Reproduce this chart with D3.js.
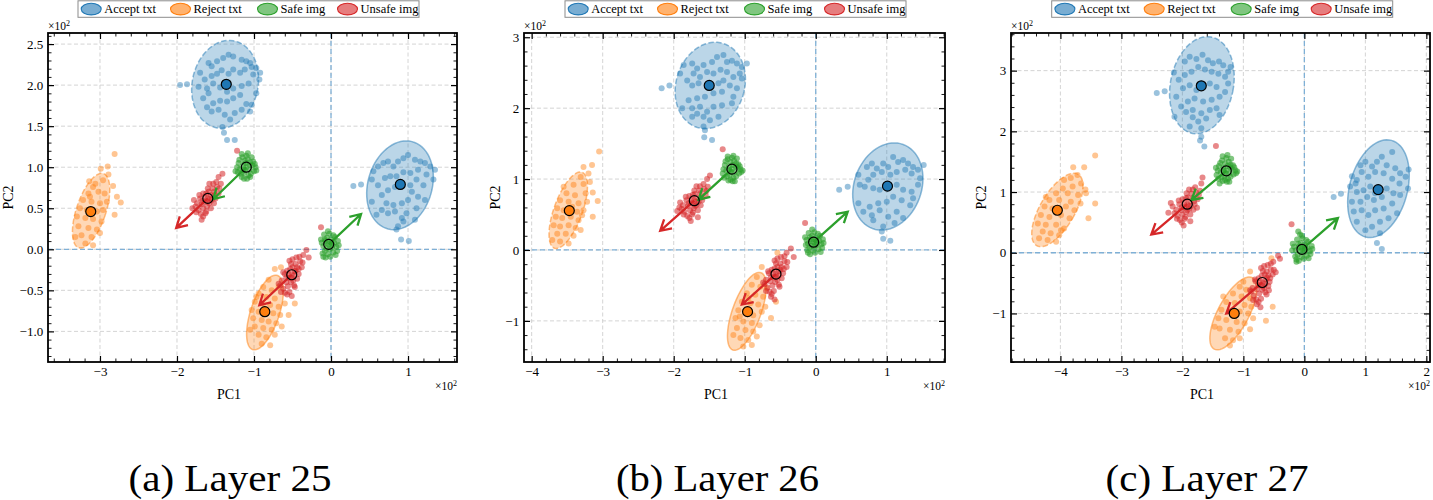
<!DOCTYPE html>
<html>
<head>
<meta charset="utf-8">
<script src="https://cdn.jsdelivr.net/npm/d3@7"></script>
<style>
  body { margin: 0; background: #fff; }
  text { font-family: "Liberation Serif", "DejaVu Serif", serif; }
</style>
</head>
<body>
<svg id="chart" width="1433" height="500"></svg>
<script>
// Legend / captions
const legendLabels = ["Accept txt", "Reject txt", "Safe img", "Unsafe img"];
const legendKeys = ["accept", "reject", "safe", "unsafe"];
const captions = ["(a) Layer 25", "(b) Layer 26", "(c) Layer 27"];

// ---------- Layer 25 (values in units of 10^2) ----------
const L25_acceptA = [[-1.96,2.00],[-1.87,2.01],[-1.59,2.27],[-1.55,2.23],[-1.48,2.29],[-1.40,2.33],[-1.33,2.37],[-1.27,2.35],[-1.16,2.31],[-1.10,2.29],[-1.05,2.27],[-1.03,2.22],[-0.97,2.21],[-0.92,2.15],[-0.93,2.07],[-1.01,2.13],[-1.12,2.19],[-1.18,2.15],[-1.27,2.19],[-1.33,2.14],[-1.42,2.18],[-1.48,2.14],[-1.55,2.11],[-1.64,2.07],[-1.70,2.15],[-1.72,1.98],[-1.61,1.96],[-1.53,2.02],[-1.44,1.97],[-1.35,1.92],[-1.27,1.96],[-1.16,1.99],[-1.07,2.02],[-1.18,1.88],[-1.27,1.84],[-1.35,1.80],[-1.44,1.81],[-1.53,1.78],[-1.61,1.73],[-1.55,1.68],[-1.46,1.70],[-1.38,1.64],[-1.31,1.58],[-1.25,1.66],[-1.16,1.70],[-1.05,1.68],[-1.10,1.77],[-1.66,1.84],[-1.59,1.90],[-1.41,1.49],[-1.35,1.33],[-1.25,1.33],[-1.39,1.42],[-0.97,1.90],[-1.03,1.76]];
const L25_acceptB = [[0.29,0.77],[0.39,0.79],[0.55,0.95],[0.53,0.85],[0.61,1.01],[0.68,1.05],[0.74,1.07],[0.81,1.01],[0.87,1.07],[0.94,1.11],[1.00,1.15],[1.09,1.09],[1.16,1.07],[1.22,1.05],[1.29,1.01],[1.35,0.97],[1.33,0.85],[1.24,0.91],[1.13,0.97],[1.03,0.93],[0.94,0.94],[0.85,0.89],[0.77,0.89],[0.70,0.87],[0.61,0.78],[0.66,0.66],[0.74,0.72],[0.83,0.76],[1.03,0.78],[1.11,0.85],[1.20,0.78],[1.05,0.70],[1.13,0.64],[1.22,0.60],[1.00,0.60],[0.92,0.56],[0.81,0.54],[0.72,0.56],[0.53,0.58],[0.66,0.48],[0.74,0.44],[0.83,0.46],[0.92,0.38],[0.98,0.44],[1.11,0.50],[0.87,0.28],[0.85,0.24],[0.91,0.12],[1.01,0.10],[0.94,0.34],[1.09,0.36],[0.59,0.42]];
const L25_rejectA = [[-2.81,1.16],[-2.90,1.01],[-2.99,0.98],[-2.89,0.91],[-2.96,0.84],[-3.09,0.76],[-3.02,0.70],[-3.15,0.68],[-2.83,0.77],[-2.78,0.64],[-2.73,0.57],[-2.81,0.42],[-3.22,0.60],[-3.11,0.58],[-3.00,0.56],[-3.26,0.50],[-3.17,0.48],[-3.04,0.46],[-2.96,0.48],[-3.30,0.40],[-3.19,0.38],[-3.09,0.37],[-2.98,0.34],[-3.28,0.28],[-3.15,0.26],[-3.04,0.24],[-3.24,0.17],[-3.11,0.15],[-3.00,0.20],[-3.19,0.07],[-3.09,0.05],[-3.32,0.15],[-3.13,0.64],[-3.06,0.80],[-2.94,0.68],[-2.91,0.58],[-3.14,0.83]];
const L25_rejectB = [[-0.73,-0.24],[-0.65,-0.22],[-0.47,-0.66],[-0.55,-0.80],[-0.81,-0.37],[-0.88,-0.46],[-0.77,-0.50],[-0.68,-0.46],[-0.94,-0.54],[-0.84,-0.58],[-0.73,-0.60],[-0.99,-0.64],[-0.90,-0.66],[-0.79,-0.68],[-0.68,-0.70],[-1.03,-0.74],[-0.94,-0.76],[-0.75,-0.78],[-0.66,-0.80],[-1.01,-0.84],[-0.90,-0.86],[-0.81,-0.88],[-0.71,-0.90],[-0.99,-0.94],[-0.88,-0.96],[-0.77,-0.98],[-0.94,-1.04],[-0.84,-1.07],[-0.73,-1.04],[-0.90,-1.15],[-0.79,-1.17],[-1.05,-0.98],[-0.60,-0.66],[-0.64,-0.94],[-0.86,-0.72],[-0.97,-0.58]];
const L25_safeA = [[-1.10,1.00],[-1.14,1.03],[-1.06,0.97],[-1.18,0.98],[-1.02,1.02],[-1.12,1.08],[-1.08,1.10],[-1.15,1.12],[-1.05,1.06],[-1.20,1.05],[-1.00,0.95],[-0.98,1.00],[-1.13,0.93],[-1.07,0.90],[-1.17,0.92],[-1.22,1.00],[-1.10,1.14],[-1.03,1.12],[-1.16,0.88],[-1.09,0.86],[-1.04,0.92],[-0.97,0.96],[-1.19,1.09],[-1.24,0.95],[-1.12,0.96],[-1.06,1.03],[-1.01,1.07],[-1.14,0.97],[-1.11,1.05],[-0.99,1.04],[-1.21,0.94],[-1.13,0.86],[-1.05,0.88],[-1.08,1.17],[-1.16,1.16]];
const L25_unsafeA = [[-1.60,0.62],[-1.64,0.58],[-1.56,0.66],[-1.68,0.55],[-1.52,0.70],[-1.62,0.68],[-1.58,0.56],[-1.70,0.62],[-1.50,0.62],[-1.66,0.50],[-1.54,0.74],[-1.48,0.76],[-1.72,0.48],[-1.60,0.74],[-1.56,0.50],[-1.66,0.68],[-1.74,0.56],[-1.46,0.68],[-1.63,0.44],[-1.69,0.43],[-1.58,0.80],[-1.52,0.56],[-1.76,0.52],[-1.64,0.64],[-1.57,0.62],[-1.61,0.52],[-1.55,0.60],[-1.67,0.59],[-1.51,0.66],[-1.59,0.70],[-1.71,0.66],[-1.45,0.74],[-1.53,0.80],[-1.62,0.46],[-1.75,0.45],[-1.66,0.40],[-1.49,0.82],[-1.43,0.80],[-1.78,0.60],[-1.60,0.58],[-1.41,0.92],[-1.46,0.88],[-1.22,1.20],[-1.80,0.50],[-1.68,0.36]];
const L25_safeB = [[-0.03,0.06],[-0.07,0.10],[0.01,0.02],[-0.10,0.04],[0.04,0.08],[-0.05,0.14],[0.00,0.12],[-0.08,-0.02],[0.03,-0.04],[-0.12,0.08],[0.07,0.03],[-0.04,-0.06],[-0.09,0.18],[-0.02,0.19],[0.05,0.15],[-0.11,-0.05],[0.08,-0.02],[-0.06,0.01],[0.02,0.05],[-0.01,-0.09],[-0.13,0.12],[0.09,0.10],[-0.05,0.07],[-0.02,0.00],[0.06,-0.07],[-0.08,0.12],[0.03,0.17],[-0.10,-0.09],[0.10,0.05],[-0.04,0.22],[-0.07,-0.10],[0.01,0.09]];
const L25_unsafeB = [[-0.51,-0.31],[-0.55,-0.35],[-0.47,-0.27],[-0.58,-0.40],[-0.44,-0.22],[-0.53,-0.24],[-0.49,-0.38],[-0.60,-0.30],[-0.42,-0.30],[-0.56,-0.45],[-0.46,-0.18],[-0.40,-0.15],[-0.62,-0.48],[-0.52,-0.18],[-0.48,-0.44],[-0.57,-0.26],[-0.64,-0.38],[-0.38,-0.22],[-0.54,-0.52],[-0.60,-0.53],[-0.50,-0.12],[-0.44,-0.36],[-0.66,-0.44],[-0.55,-0.30],[-0.48,-0.32],[-0.52,-0.40],[-0.46,-0.26],[-0.58,-0.34],[-0.42,-0.24],[-0.50,-0.22],[-0.62,-0.28],[-0.37,-0.16],[-0.45,-0.10],[-0.54,-0.14],[-0.57,-0.55],[-0.65,-0.52],[-0.47,-0.46],[-0.41,-0.09],[-0.68,-0.42],[-0.51,-0.35],[-0.32,-0.01],[-0.29,-0.10],[-0.36,-0.07],[-0.51,-0.57],[-0.13,0.27]];
// means: acceptA, acceptB, rejectA, rejectB, safeA, safeB, unsafeA, unsafeB
const L25_means = [[-1.36,2.01],[0.90,0.79],[-3.12,0.46],[-0.86,-0.76],[-1.10,1.00],[-0.03,0.06],[-1.60,0.62],[-0.51,-0.31]];
// ellipses: cx, cy, semi-x, semi-y, angle (deg)
const L25_ellipses = [[-1.375,2.01,0.426,0.542,-15],[0.896,0.78,0.414,0.555,-20],[-3.115,0.47,0.19,0.48,-20],[-0.857,-0.77,0.185,0.48,-20]];
// arrows: x0, y0, x1, y1
const L25_arrows = [[-1.10,1.00,-1.53,0.61],[-1.60,0.62,-2.01,0.26],[-0.03,0.06,0.39,0.43],[-0.51,-0.31,-0.93,-0.68]];

// ---------- Layer 26 ----------
const L26_acceptA = [[-2.17,2.28],[-2.06,2.32],[-1.91,2.49],[-1.86,2.61],[-1.74,2.63],[-1.67,2.56],[-1.58,2.61],[-1.46,2.65],[-1.39,2.72],[-1.30,2.75],[-1.25,2.65],[-1.18,2.67],[-1.11,2.63],[-1.04,2.58],[-0.97,2.63],[-1.07,2.49],[-1.16,2.44],[-1.25,2.51],[-1.34,2.54],[-1.44,2.49],[-1.53,2.51],[-1.63,2.44],[-1.72,2.49],[-1.81,2.39],[-1.74,2.32],[-1.65,2.35],[-1.37,2.35],[-1.30,2.39],[-1.21,2.32],[-1.11,2.28],[-1.32,2.23],[-1.44,2.21],[-1.56,2.16],[-1.67,2.14],[-1.79,2.11],[-1.88,2.00],[-1.74,2.00],[-1.63,2.02],[-1.53,1.95],[-1.44,2.02],[-1.32,2.04],[-1.18,2.07],[-1.16,2.16],[-1.67,1.92],[-1.58,1.88],[-1.49,1.83],[-1.37,1.88],[-1.58,1.74],[-1.56,1.69],[-1.57,1.59],[-1.46,1.55],[-1.74,1.88],[-1.04,2.42]];
const L26_acceptB = [[0.33,0.85],[0.45,0.89],[0.60,1.06],[0.62,0.92],[0.72,1.17],[0.79,1.22],[0.86,1.15],[0.95,1.22],[1.02,1.17],[1.09,1.31],[1.16,1.24],[1.23,1.27],[1.30,1.22],[1.37,1.17],[1.44,1.13],[1.52,1.20],[1.47,1.01],[1.35,1.08],[1.26,1.13],[1.14,1.10],[1.05,1.06],[0.93,1.10],[0.81,1.06],[0.74,0.99],[0.69,0.89],[0.81,0.87],[0.90,0.85],[1.14,0.92],[1.23,0.85],[1.35,0.82],[1.44,0.92],[1.09,0.75],[1.21,0.70],[1.33,0.63],[1.00,0.68],[0.88,0.66],[0.76,0.61],[0.60,0.66],[0.67,0.54],[0.79,0.49],[0.90,0.56],[1.02,0.47],[1.14,0.54],[1.23,0.45],[0.95,0.33],[0.93,0.26],[0.95,0.16],[1.05,0.13],[1.11,0.38],[0.81,0.42],[1.37,0.73]];
const L26_rejectA = [[-3.05,1.39],[-3.15,1.20],[-3.27,1.17],[-3.14,0.81],[-3.07,0.69],[-3.14,0.47],[-3.20,1.08],[-3.31,1.03],[-3.41,0.92],[-3.27,0.93],[-3.51,0.80],[-3.39,0.77],[-3.24,0.80],[-3.60,0.70],[-3.48,0.68],[-3.34,0.66],[-3.64,0.59],[-3.55,0.56],[-3.36,0.54],[-3.27,0.56],[-3.66,0.47],[-3.57,0.45],[-3.45,0.47],[-3.34,0.42],[-3.69,0.35],[-3.60,0.33],[-3.48,0.35],[-3.38,0.31],[-3.64,0.23],[-3.52,0.23],[-3.41,0.20],[-3.60,0.12],[-3.48,0.09],[-3.71,0.14],[-3.31,0.28],[-3.43,0.61],[-3.22,0.68],[-3.55,0.89],[-3.18,0.96],[-3.29,0.49]];
const L26_rejectB = [[-0.76,-0.24],[-0.54,-0.04],[-0.63,-0.96],[-0.56,-0.73],[-0.83,-0.38],[-0.90,-0.49],[-0.78,-0.52],[-0.97,-0.61],[-0.85,-0.63],[-0.74,-0.66],[-1.04,-0.73],[-0.92,-0.75],[-0.81,-0.77],[-1.09,-0.85],[-0.99,-0.89],[-0.88,-0.92],[-0.76,-0.87],[-1.13,-0.96],[-1.02,-1.01],[-0.90,-1.03],[-0.79,-1.06],[-1.11,-1.10],[-0.99,-1.13],[-0.88,-1.15],[-1.06,-1.24],[-0.95,-1.27],[-0.83,-1.22],[-1.02,-1.36],[-0.90,-1.34],[-1.16,-1.20],[-0.71,-0.80],[-0.95,-0.68],[-1.07,-0.94],[-0.69,-0.54]];
const L26_safeA = [[-1.18,1.14],[-1.22,1.18],[-1.14,1.10],[-1.26,1.12],[-1.10,1.16],[-1.20,1.24],[-1.15,1.26],[-1.24,1.28],[-1.12,1.22],[-1.28,1.20],[-1.08,1.08],[-1.06,1.14],[-1.21,1.06],[-1.16,1.02],[-1.25,1.04],[-1.30,1.14],[-1.18,1.30],[-1.11,1.29],[-1.23,0.98],[-1.17,0.97],[-1.12,1.04],[-1.05,1.10],[-1.27,1.25],[-1.31,1.08],[-1.19,1.10],[-1.13,1.18],[-1.09,1.21],[-1.22,1.13],[-1.17,1.20],[-1.07,1.18],[-1.29,1.02],[-1.20,0.99],[-1.14,0.97],[-1.16,1.33],[-1.24,1.32],[-1.03,1.12]];
const L26_unsafeA = [[-1.71,0.70],[-1.75,0.66],[-1.67,0.74],[-1.80,0.62],[-1.62,0.80],[-1.73,0.78],[-1.68,0.63],[-1.82,0.70],[-1.60,0.70],[-1.77,0.56],[-1.64,0.84],[-1.57,0.86],[-1.85,0.54],[-1.71,0.84],[-1.66,0.56],[-1.78,0.76],[-1.87,0.63],[-1.55,0.77],[-1.74,0.50],[-1.81,0.48],[-1.68,0.90],[-1.62,0.63],[-1.89,0.58],[-1.75,0.72],[-1.69,0.68],[-1.72,0.59],[-1.65,0.68],[-1.79,0.66],[-1.61,0.74],[-1.70,0.79],[-1.83,0.75],[-1.54,0.83],[-1.63,0.90],[-1.73,0.53],[-1.86,0.50],[-1.78,0.45],[-1.58,0.93],[-1.52,0.89],[-1.91,0.67],[-1.70,0.62],[-1.76,0.41],[-1.66,0.46],[-1.31,1.42],[-1.49,1.05],[-1.53,1.00],[-1.92,0.60],[-1.95,0.55]];
const L26_safeB = [[-0.03,0.11],[-0.07,0.15],[0.01,0.07],[-0.11,0.09],[0.05,0.13],[-0.05,0.20],[0.00,0.17],[-0.09,0.03],[0.04,0.01],[-0.13,0.14],[0.08,0.08],[-0.04,-0.01],[-0.10,0.24],[-0.02,0.25],[0.06,0.20],[-0.12,0.00],[0.09,0.03],[-0.06,0.06],[0.02,0.10],[-0.01,-0.04],[-0.15,0.18],[0.10,0.15],[-0.05,0.12],[-0.02,0.05],[0.07,-0.03],[-0.08,0.18],[0.03,0.23],[-0.11,-0.04],[0.11,0.10],[-0.05,0.29],[-0.08,-0.06],[0.01,0.14],[-0.14,0.07]];
const L26_unsafeB = [[-0.56,-0.34],[-0.60,-0.39],[-0.52,-0.30],[-0.64,-0.44],[-0.48,-0.24],[-0.58,-0.26],[-0.54,-0.42],[-0.66,-0.33],[-0.46,-0.33],[-0.61,-0.50],[-0.50,-0.19],[-0.44,-0.16],[-0.68,-0.53],[-0.56,-0.19],[-0.52,-0.49],[-0.62,-0.28],[-0.70,-0.42],[-0.41,-0.24],[-0.59,-0.58],[-0.65,-0.59],[-0.54,-0.12],[-0.48,-0.40],[-0.72,-0.48],[-0.60,-0.33],[-0.52,-0.36],[-0.57,-0.45],[-0.50,-0.28],[-0.63,-0.38],[-0.45,-0.27],[-0.54,-0.24],[-0.67,-0.30],[-0.40,-0.17],[-0.49,-0.10],[-0.58,-0.15],[-0.62,-0.62],[-0.70,-0.58],[-0.51,-0.52],[-0.44,-0.09],[-0.74,-0.46],[-0.56,-0.38],[-0.63,-0.66],[-0.35,0.02],[-0.31,-0.10],[-0.41,-0.04],[-0.15,0.38],[-0.58,-0.70]];
const L26_means = [[-1.50,2.32],[1.01,0.90],[-3.47,0.555],[-0.96,-0.87],[-1.18,1.14],[-0.03,0.11],[-1.71,0.695],[-0.56,-0.34]];
const L26_ellipses = [[-1.485,2.32,0.482,0.62,-17],[1.015,0.895,0.474,0.631,-20],[-3.485,0.56,0.2,0.57,-20],[-0.97,-0.865,0.2,0.58,-20]];
const L26_arrows = [[-1.18,1.14,-1.65,0.71],[-1.71,0.695,-2.19,0.27],[-0.03,0.11,0.45,0.54],[-0.56,-0.34,-1.04,-0.77]];

// ---------- Layer 27 ----------
const L27_acceptA = [[-2.42,2.63],[-2.29,2.66],[-2.14,2.97],[-1.96,3.15],[-1.88,3.23],[-1.77,3.19],[-1.67,3.26],[-1.58,3.17],[-1.50,3.12],[-1.40,3.15],[-1.33,3.09],[-1.25,2.98],[-1.21,3.06],[-1.30,2.90],[-1.41,2.95],[-1.52,2.98],[-1.63,3.02],[-1.74,3.06],[-1.85,2.98],[-1.96,2.93],[-2.06,2.85],[-1.99,2.71],[-1.88,2.76],[-1.77,2.68],[-1.55,2.79],[-1.44,2.73],[-1.30,2.65],[-1.39,2.57],[-1.52,2.52],[-1.66,2.49],[-1.80,2.54],[-1.91,2.49],[-2.02,2.41],[-1.94,2.32],[-1.83,2.35],[-1.69,2.30],[-1.55,2.35],[-1.44,2.38],[-1.61,2.21],[-1.74,2.16],[-1.88,2.08],[-1.69,2.05],[-1.83,2.23],[-2.10,2.57],[-1.39,2.27],[-1.69,1.91],[-1.71,1.85],[-1.64,1.75],[-2.13,2.24],[-1.25,2.79]];
const L27_acceptB = [[0.48,0.92],[0.60,0.97],[0.78,1.26],[0.84,1.14],[0.92,1.44],[1.00,1.50],[1.11,1.42],[1.19,1.50],[1.27,1.58],[1.35,1.44],[1.44,1.66],[1.49,1.39],[1.57,1.31],[1.66,1.25],[1.71,1.37],[1.70,1.06],[1.56,1.14],[1.44,1.22],[1.30,1.31],[1.16,1.33],[1.05,1.25],[0.94,1.33],[0.86,1.20],[0.75,1.09],[0.86,1.00],[0.97,1.03],[1.08,1.09],[1.35,1.06],[1.46,0.98],[1.57,0.95],[1.27,0.92],[1.14,0.87],[1.03,0.92],[0.92,0.84],[0.81,0.68],[0.94,0.70],[1.05,0.62],[1.16,0.70],[1.30,0.73],[1.44,0.81],[1.38,0.57],[1.24,0.51],[1.11,0.43],[1.00,0.37],[1.24,0.32],[1.19,0.16],[1.27,0.06],[0.86,0.51],[1.52,0.65],[0.78,0.84],[1.16,0.98]];
const L27_rejectA = [[-3.43,1.60],[-3.61,1.41],[-3.79,1.41],[-3.59,1.04],[-3.43,0.81],[-3.54,0.57],[-3.72,1.28],[-3.83,1.23],[-3.94,1.20],[-3.66,1.14],[-3.80,1.09],[-3.96,1.06],[-4.07,0.98],[-3.88,0.98],[-3.71,0.95],[-4.18,0.87],[-4.02,0.87],[-3.83,0.84],[-4.26,0.76],[-4.13,0.73],[-3.91,0.76],[-3.77,0.70],[-4.32,0.62],[-4.18,0.59],[-3.99,0.62],[-3.85,0.57],[-4.37,0.48],[-4.24,0.46],[-4.07,0.46],[-3.94,0.40],[-4.29,0.35],[-4.16,0.32],[-4.02,0.29],[-4.35,0.24],[-4.21,0.21],[-4.07,0.18],[-3.99,0.37],[-3.67,0.81],[-4.24,0.92],[-3.58,0.98]];
const L27_rejectB = [[-0.89,-0.31],[-0.54,-0.09],[-0.63,-1.12],[-0.52,-0.89],[-1.06,-0.56],[-0.95,-0.61],[-1.17,-0.67],[-1.03,-0.72],[-0.89,-0.75],[-1.28,-0.81],[-1.14,-0.83],[-0.98,-0.86],[-1.36,-0.94],[-1.22,-0.97],[-1.06,-0.97],[-0.92,-1.00],[-1.41,-1.08],[-1.28,-1.11],[-1.11,-1.14],[-0.98,-1.16],[-1.39,-1.25],[-1.22,-1.27],[-1.08,-1.30],[-1.30,-1.41],[-1.17,-1.44],[-1.06,-1.41],[-1.22,-1.53],[-1.47,-1.22],[-0.87,-0.89],[-0.84,-1.08],[-1.33,-0.72],[-1.00,-0.48],[-0.89,-1.26]];
const L27_safeA = [[-1.28,1.35],[-1.33,1.40],[-1.23,1.31],[-1.37,1.33],[-1.19,1.38],[-1.30,1.47],[-1.24,1.50],[-1.35,1.52],[-1.21,1.45],[-1.40,1.43],[-1.16,1.29],[-1.13,1.36],[-1.31,1.26],[-1.25,1.22],[-1.36,1.24],[-1.42,1.35],[-1.28,1.56],[-1.20,1.55],[-1.34,1.18],[-1.27,1.17],[-1.21,1.25],[-1.12,1.31],[-1.38,1.48],[-1.44,1.28],[-1.29,1.31],[-1.22,1.41],[-1.17,1.44],[-1.32,1.36],[-1.26,1.43],[-1.15,1.41],[-1.41,1.22],[-1.30,1.20],[-1.23,1.17],[-1.26,1.61],[-1.34,1.59],[-1.10,1.34],[-1.39,1.14],[-1.45,1.40]];
const L27_unsafeA = [[-1.92,0.80],[-1.97,0.75],[-1.87,0.85],[-2.02,0.70],[-1.82,0.91],[-1.94,0.90],[-1.89,0.72],[-2.05,0.80],[-1.80,0.80],[-2.00,0.63],[-1.85,0.97],[-1.77,0.99],[-2.08,0.61],[-1.93,0.98],[-1.87,0.63],[-2.00,0.88],[-2.10,0.71],[-1.75,0.88],[-1.96,0.56],[-2.04,0.54],[-1.89,1.04],[-1.82,0.71],[-2.13,0.65],[-1.97,0.83],[-1.90,0.77],[-1.94,0.67],[-1.86,0.77],[-2.01,0.75],[-1.81,0.85],[-1.91,0.91],[-2.06,0.86],[-1.73,0.95],[-1.83,1.04],[-1.95,0.59],[-2.09,0.56],[-2.01,0.50],[-1.79,1.08],[-1.71,1.02],[-2.16,0.76],[-1.92,0.70],[-1.98,0.45],[-1.87,0.52],[-2.19,0.82],[-1.76,0.74],[-1.45,1.76],[-1.67,1.24],[-1.69,1.14],[-2.23,0.66]];
const L27_safeB = [[-0.04,0.06],[-0.09,0.10],[0.01,0.02],[-0.14,0.04],[0.05,0.08],[-0.06,0.16],[0.00,0.13],[-0.11,-0.03],[0.04,-0.05],[-0.17,0.10],[0.09,0.03],[-0.05,-0.07],[-0.12,0.22],[-0.03,0.24],[0.06,0.18],[-0.15,-0.06],[0.10,-0.02],[-0.07,0.02],[0.02,0.07],[-0.01,-0.10],[-0.19,0.15],[0.12,0.11],[-0.06,0.09],[-0.02,0.00],[0.07,-0.09],[-0.10,0.15],[0.03,0.21],[-0.13,-0.11],[0.13,0.06],[-0.07,0.30],[-0.09,-0.13],[0.01,0.11],[-0.20,0.04],[-0.10,0.35],[-0.13,-0.15],[-0.04,0.28]];
const L27_unsafeB = [[-0.68,-0.49],[-0.73,-0.54],[-0.63,-0.44],[-0.78,-0.60],[-0.59,-0.37],[-0.70,-0.38],[-0.66,-0.58],[-0.80,-0.47],[-0.57,-0.48],[-0.74,-0.67],[-0.62,-0.31],[-0.55,-0.28],[-0.83,-0.71],[-0.68,-0.30],[-0.64,-0.65],[-0.75,-0.42],[-0.85,-0.58],[-0.52,-0.36],[-0.71,-0.76],[-0.79,-0.77],[-0.66,-0.22],[-0.59,-0.55],[-0.87,-0.64],[-0.72,-0.47],[-0.64,-0.51],[-0.69,-0.61],[-0.61,-0.41],[-0.76,-0.53],[-0.56,-0.42],[-0.65,-0.36],[-0.81,-0.44],[-0.50,-0.28],[-0.60,-0.20],[-0.71,-0.25],[-0.75,-0.81],[-0.84,-0.78],[-0.62,-0.69],[-0.55,-0.18],[-0.89,-0.62],[-0.68,-0.55],[-0.78,-0.85],[-0.58,-0.62],[-0.47,-0.32],[-0.43,-0.05],[-0.51,-0.15],[-0.21,0.47],[-0.40,-0.10],[-0.72,-0.90]];
const L27_means = [[-1.69,2.75],[1.21,1.04],[-4.05,0.70],[-1.15,-1.00],[-1.28,1.35],[-0.04,0.055],[-1.92,0.80],[-0.69,-0.49]];
const L27_ellipses = [[-1.68,2.76,0.517,0.809,-11],[1.215,1.055,0.474,0.824,-15],[-4.05,0.705,0.286,0.679,-30],[-1.165,-1.0,0.254,0.666,-28]];
const L27_arrows = [[-1.28,1.35,-1.85,0.87],[-1.92,0.80,-2.51,0.30],[-0.04,0.055,0.55,0.57],[-0.69,-0.49,-1.28,-1.00]];

const colors = { accept: "#1f77b4", reject: "#ff7f0e", safe: "#2ca02c", unsafe: "#d62728" };
const serif = "'Liberation Serif', 'DejaVu Serif', serif";

// Panel layout (pixels) and axis settings
const layers = [
  { caption: captions[0], box: [48, 457, 33, 362], xDomain: [-3.675, 1.636], yDomain: [-1.373, 2.635],
    xStep: [1, 0.2], yStep: [0.5, 0.1], yFmt: ".1f", pc1X: 229, pc2X: 8.5, capX: 230, legendX: 78,
    points: { accept: [L25_acceptA, L25_acceptB], reject: [L25_rejectA, L25_rejectB], safe: [L25_safeA, L25_safeB], unsafe: [L25_unsafeA, L25_unsafeB] },
    means: L25_means, ellipses: L25_ellipses, arrows: L25_arrows },
  { caption: captions[1], box: [524, 945, 33, 362], xDomain: [-4.108, 1.82], yDomain: [-1.58, 3.06],
    xStep: [1, 0.2], yStep: [1, 0.2], yFmt: "d", pc1X: 716, pc2X: 495, capX: 717.5, legendX: 565,
    points: { accept: [L26_acceptA, L26_acceptB], reject: [L26_rejectA, L26_rejectB], safe: [L26_safeA, L26_safeB], unsafe: [L26_unsafeA, L26_unsafeB] },
    means: L26_means, ellipses: L26_ellipses, arrows: L26_arrows },
  { caption: captions[2], box: [1011, 1430, 33, 362], xDomain: [-4.81, 2.06], yDomain: [-1.80, 3.62],
    xStep: [1, 0.2], yStep: [1, 0.2], yFmt: "d", pc1X: 1202, pc2X: 981.5, capX: 1207, legendX: 1051.7,
    points: { accept: [L27_acceptA, L27_acceptB], reject: [L27_rejectA, L27_rejectB], safe: [L27_safeA, L27_safeB], unsafe: [L27_unsafeA, L27_unsafeB] },
    means: L27_means, ellipses: L27_ellipses, arrows: L27_arrows }
];

const legendOffsets = [2.7, 92, 179, 259];
const meanKeys = ["accept", "accept", "reject", "reject", "safe", "safe", "unsafe", "unsafe"];
const ellipseKeys = ["accept", "accept", "reject", "reject"];
const arrowKeys = ["safe", "unsafe", "safe", "unsafe"];
const pointAlpha = { accept: 0.45, reject: 0.45, safe: 0.6, unsafe: 0.55 };

const svg = d3.select("#chart");

function ticksBy(domain, step) {
  const i0 = Math.ceil(domain[0] / step - 1e-6);
  const i1 = Math.floor(domain[1] / step + 1e-6);
  return d3.range(i0, i1 + 1).map(i => +(i * step).toFixed(6));
}

function minorTicks(domain, steps) {
  return ticksBy(domain, steps[1]).filter(v => Math.abs(v / steps[0] - Math.round(v / steps[0])) > 1e-6);
}

function ellipsePoints(e) {
  const [cx, cy, a, b, deg] = e;
  const th = deg * Math.PI / 180;
  return d3.range(0, 72).map(k => {
    const t = 2 * Math.PI * k / 72;
    const ex = a * Math.cos(t), ey = b * Math.sin(t);
    return [cx + ex * Math.cos(th) - ey * Math.sin(th), cy + ex * Math.sin(th) + ey * Math.cos(th)];
  });
}

function arrowPath(x0, y0, x1, y1) {
  const ang = Math.atan2(y1 - y0, x1 - x0);
  const hl = 10.5, hw = 6;
  const bx = x1 - hl * Math.cos(ang), by = y1 - hl * Math.sin(ang);
  const px = -Math.sin(ang) * hw, py = Math.cos(ang) * hw;
  return `M${x0},${y0}L${x1},${y1}M${bx + px},${by + py}L${x1},${y1}L${bx - px},${by - py}`;
}

function drawPanel(L) {
  const [bx0, bx1, by0, by1] = L.box;
  const g = svg.append("g");
  const x = d3.scaleLinear().domain(L.xDomain).range([bx0, bx1]);
  const y = d3.scaleLinear().domain(L.yDomain).range([by1, by0]);

  const xMaj = ticksBy(L.xDomain, L.xStep[0]);
  const yMaj = ticksBy(L.yDomain, L.yStep[0]);
  const xMin = minorTicks(L.xDomain, L.xStep);
  const yMin = minorTicks(L.yDomain, L.yStep);

  // grid
  g.append("g").selectAll("line").data(xMaj).join("line")
    .attr("x1", d => x(d)).attr("x2", d => x(d)).attr("y1", by0).attr("y2", by1)
    .attr("stroke", "#cfcfcf").attr("stroke-width", 0.9).attr("stroke-dasharray", "4,2.5");
  g.append("g").selectAll("line").data(yMaj).join("line")
    .attr("y1", d => y(d)).attr("y2", d => y(d)).attr("x1", bx0).attr("x2", bx1)
    .attr("stroke", "#cfcfcf").attr("stroke-width", 0.9).attr("stroke-dasharray", "4,2.5");

  // zero lines
  g.append("line").attr("x1", x(0)).attr("x2", x(0)).attr("y1", by0).attr("y2", by1)
    .attr("stroke", "#7fb0d6").attr("stroke-width", 1.3).attr("stroke-dasharray", "5,3");
  g.append("line").attr("y1", y(0)).attr("y2", y(0)).attr("x1", bx0).attr("x2", bx1)
    .attr("stroke", "#7fb0d6").attr("stroke-width", 1.3).attr("stroke-dasharray", "5,3");

  // confidence ellipses (first group dashed, second solid)
  const line = d3.line().x(d => x(d[0])).y(d => y(d[1])).curve(d3.curveLinearClosed);
  L.ellipses.forEach((e, i) => {
    const c = colors[ellipseKeys[i]];
    g.append("path").attr("d", line(ellipsePoints(e)))
      .attr("fill", c).attr("fill-opacity", 0.3)
      .attr("stroke", c).attr("stroke-opacity", 0.5).attr("stroke-width", 1.5)
      .attr("stroke-dasharray", i % 2 === 0 ? "5.5,2.4" : null);
  });

  // scatter points
  legendKeys.forEach(k => {
    const pts = L.points[k][0].concat(L.points[k][1]);
    g.append("g").selectAll("circle").data(pts).join("circle")
      .attr("cx", d => x(d[0])).attr("cy", d => y(d[1])).attr("r", 3)
      .attr("fill", colors[k]).attr("fill-opacity", pointAlpha[k]);
  });

  // shift arrows
  L.arrows.forEach((a, i) => {
    g.append("path").attr("d", arrowPath(x(a[0]), y(a[1]), x(a[2]), y(a[3])))
      .attr("fill", "none").attr("stroke", colors[arrowKeys[i]]).attr("stroke-width", 2.3)
      .attr("stroke-linejoin", "miter");
  });

  // centroid markers
  g.append("g").selectAll("circle").data(L.means).join("circle")
    .attr("cx", d => x(d[0])).attr("cy", d => y(d[1])).attr("r", 5)
    .attr("fill", (d, i) => i < 4 ? colors[meanKeys[i]] : "none")
    .attr("stroke", "#000").attr("stroke-width", 1.2);

  // axes: major + minor ticks, inward on all sides
  const fmtX = d3.format("d"), fmtY = d3.format(L.yFmt);
  const axes = [
    [d3.axisBottom(x), `translate(0,${by1})`, xMaj, xMin, fmtX],
    [d3.axisTop(x), `translate(0,${by0})`, xMaj, xMin, null],
    [d3.axisLeft(y), `translate(${bx0},0)`, yMaj, yMin, fmtY],
    [d3.axisRight(y), `translate(${bx1},0)`, yMaj, yMin, null]
  ];
  axes.forEach(([ax, tr, maj, mnr, fmt]) => {
    g.append("g").attr("transform", tr)
      .call(ax.tickValues(mnr).tickSizeInner(-3.5).tickSizeOuter(0).tickFormat(""))
      .call(a => a.select(".domain").remove())
      .call(a => a.selectAll("line").attr("stroke", "#000").attr("stroke-width", 0.9));
    g.append("g").attr("transform", tr)
      .call(ax.tickValues(maj).tickSizeInner(-6).tickSizeOuter(0).tickPadding(fmt ? 4.8 : 3).tickFormat(fmt || ""))
      .call(a => a.select(".domain").remove())
      .call(a => a.selectAll("line").attr("stroke", "#000").attr("stroke-width", 1.2))
      .call(a => a.selectAll("text").attr("font-family", serif).attr("font-size", 13).attr("fill", "#000"));
  });

  g.append("rect").attr("x", bx0).attr("y", by0).attr("width", bx1 - bx0).attr("height", by1 - by0)
    .attr("fill", "none").attr("stroke", "#000").attr("stroke-width", 1.8);

  // offset labels (x10^2)
  const off1 = g.append("text").attr("x", bx0).attr("y", 30).attr("font-family", serif).attr("font-size", 11.5);
  off1.append("tspan").text("×10");
  off1.append("tspan").attr("dy", -4.5).attr("font-size", 8).text("2");
  const off2 = g.append("text").attr("x", bx1).attr("y", 390).attr("font-family", serif).attr("font-size", 11.5).attr("text-anchor", "end");
  off2.append("tspan").text("×10");
  off2.append("tspan").attr("dy", -4.5).attr("font-size", 8).text("2");

  // axis labels
  g.append("text").attr("x", L.pc1X).attr("y", 398.5).attr("text-anchor", "middle")
    .attr("font-family", serif).attr("font-size", 14).text("PC1");
  g.append("text").attr("transform", `translate(${L.pc2X},${(by0 + by1) / 2}) rotate(-90)`)
    .attr("dy", "0.35em").attr("text-anchor", "middle").attr("font-family", serif).attr("font-size", 14).text("PC2");

  // legend
  const lg = g.append("g").attr("transform", `translate(${L.legendX},0.8)`);
  lg.append("rect").attr("width", 341).attr("height", 16.5)
    .attr("fill", "#fff").attr("stroke", "#8c8c8c").attr("stroke-width", 1);
  legendKeys.forEach((k, i) => {
    lg.append("ellipse").attr("cx", legendOffsets[i] + 10.5).attr("cy", 8.3).attr("rx", 10).attr("ry", 5.8)
      .attr("fill", colors[k]).attr("fill-opacity", 0.6).attr("stroke", colors[k]).attr("stroke-width", 1.1);
    lg.append("text").attr("x", legendOffsets[i] + 23.5).attr("y", 8.3).attr("dy", "0.35em")
      .attr("font-family", serif).attr("font-size", 12.5).text(legendLabels[i]);
  });

  // sub-caption
  g.append("text").attr("x", L.capX).attr("y", 491).attr("text-anchor", "middle")
    .attr("font-family", serif).attr("font-size", 37)
    .attr("textLength", 203).attr("lengthAdjust", "spacingAndGlyphs").text(L.caption);
}

layers.forEach(drawPanel);
</script>
</body>
</html>
